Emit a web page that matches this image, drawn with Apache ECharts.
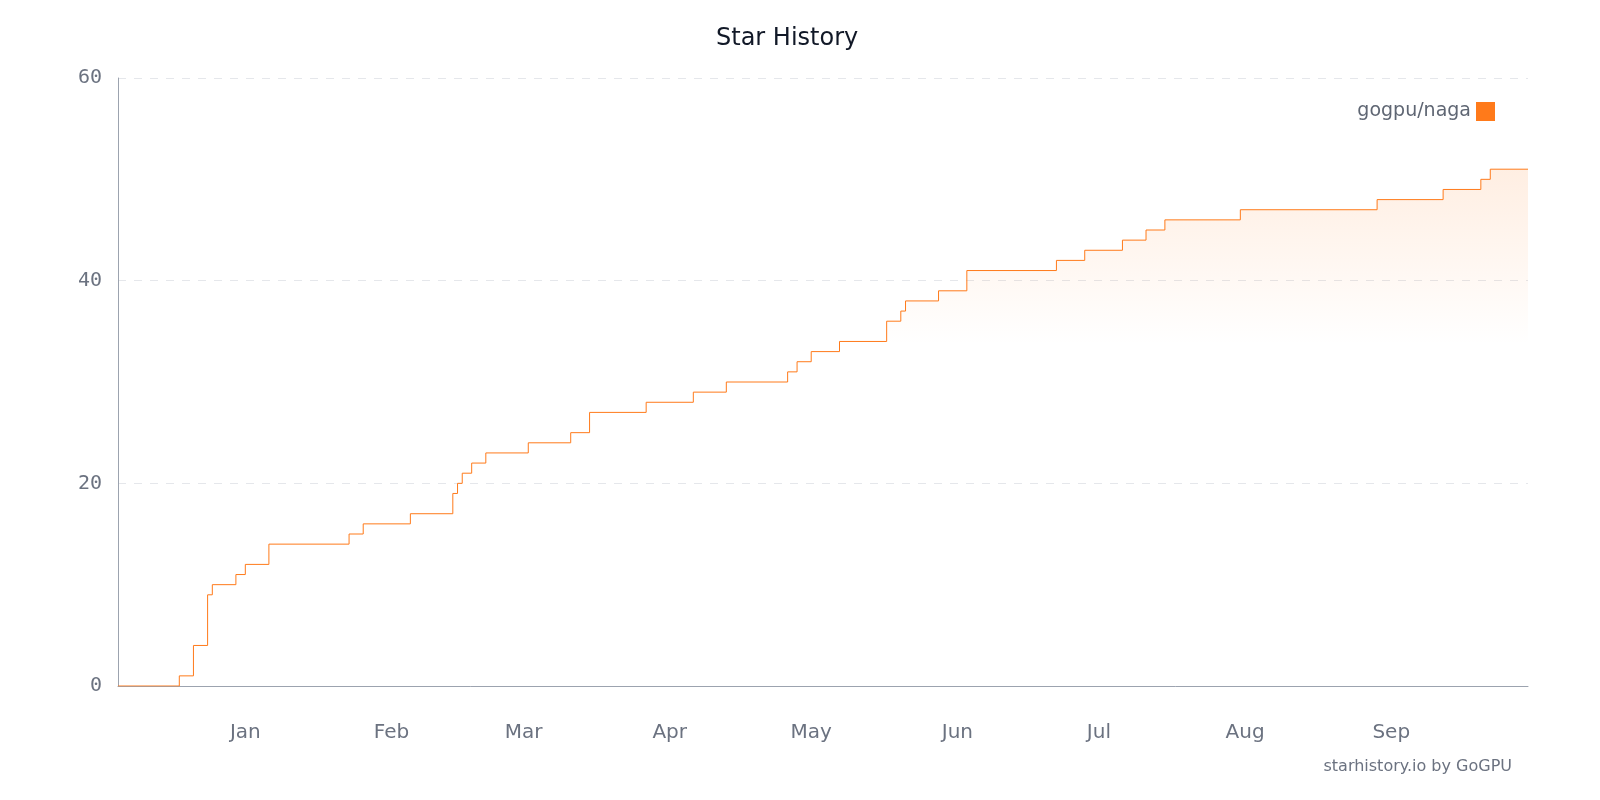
<!DOCTYPE html>
<html>
<head>
<meta charset="utf-8">
<script src="https://cdn.jsdelivr.net/npm/echarts@6/dist/echarts.min.js"></script>
<style>
html,body{margin:0;padding:0;background:#fff;}
#chart{width:1600px;height:800px;}
</style>
</head>
<body>
<div id="chart"></div>
<script>
const seriesName = 'gogpu/naga';
const dates = ['2024-12-05','2024-12-18','2024-12-21','2024-12-24','2024-12-25','2024-12-30','2025-01-01','2025-01-06','2025-01-23','2025-01-26','2025-02-05','2025-02-14','2025-02-15','2025-02-16','2025-02-18','2025-02-21','2025-03-02','2025-03-11','2025-03-15','2025-03-27','2025-04-06','2025-04-13','2025-04-26','2025-04-28','2025-05-01','2025-05-07','2025-05-17','2025-05-20','2025-05-21','2025-05-28','2025-06-03','2025-06-22','2025-06-28','2025-07-06','2025-07-11','2025-07-15','2025-07-31','2025-08-29','2025-09-12','2025-09-20','2025-09-22','2025-09-30'];
const stars = [0,1,4,9,10,11,12,14,15,16,17,19,20,21,22,23,24,25,27,28,29,30,31,32,33,34,36,37,38,39,41,42,43,44,45,46,47,48,49,50,51,51];
const xMin = '2024-12-05';
const xMax = '2025-09-30';
const yTicks = [0, 20, 40, 60];

const chart = echarts.init(document.getElementById('chart'), null, {renderer: 'canvas'});
const DAY = 24 * 3600 * 1000;
const orange = '#ff7a1a';
chart.setOption({
  animation: false,
  backgroundColor: '#ffffff',
  title: {
    text: 'Star History',
    left: 711,
    top: 22,
    textStyle: {fontFamily: 'DejaVu Sans', fontSize: 24, fontWeight: 'normal', color: '#111827'}
  },
  legend: {
    data: [{name: seriesName, icon: 'rect'}],
    right: 100,
    top: 97,
    align: 'right',
    itemWidth: 19,
    itemHeight: 19,
    itemGap: 10,
    textStyle: {fontFamily: 'DejaVu Sans', fontSize: 19, color: '#5f6673'}
  },
  grid: {left: 118, right: 72, top: 78, bottom: 114, containLabel: false},
  xAxis: {
    type: 'time',
    min: xMin,
    max: xMax,
    minInterval: 28 * DAY,
    maxInterval: 31 * DAY,
    axisLine: {show: true, lineStyle: {color: '#9ca3af', width: 1}},
    axisTick: {show: false},
    splitLine: {show: false},
    axisLabel: {
      formatter: '{MMM}',
      margin: 37,
      showMinLabel: false,
      showMaxLabel: false,
      fontFamily: 'DejaVu Sans',
      fontSize: 20,
      color: '#6b7280'
    }
  },
  yAxis: {
    type: 'value',
    min: yTicks[0],
    max: yTicks[yTicks.length - 1],
    interval: yTicks[1] - yTicks[0],
    axisLine: {show: true, lineStyle: {color: '#9ca3af', width: 1}},
    axisTick: {show: false},
    splitLine: {show: true, lineStyle: {color: '#e5e7eb', type: [8, 8], width: 1}},
    axisLabel: {margin: 16, fontFamily: 'DejaVu Sans Mono', fontSize: 20, color: '#6b7280'}
  },
  series: [{
    name: seriesName,
    type: 'line',
    step: 'end',
    showSymbol: false,
    symbol: 'none',
    data: dates.map((d, i) => [d, stars[i]]),
    itemStyle: {color: orange},
    lineStyle: {color: orange, width: 1},
    areaStyle: {
      color: new echarts.graphic.LinearGradient(0, 0, 0, 1, [
        {offset: 0, color: 'rgba(255,122,26,0.18)'},
        {offset: 0.34, color: 'rgba(255,122,26,0)'},
        {offset: 1, color: 'rgba(255,122,26,0)'}
      ])
    }
  }],
  graphic: [{
    type: 'text',
    right: 88,
    top: 759,
    style: {text: 'starhistory.io by GoGPU', fontFamily: 'DejaVu Sans', fontSize: 16, fill: '#6b7280'}
  }]
});
</script>
</body>
</html>
